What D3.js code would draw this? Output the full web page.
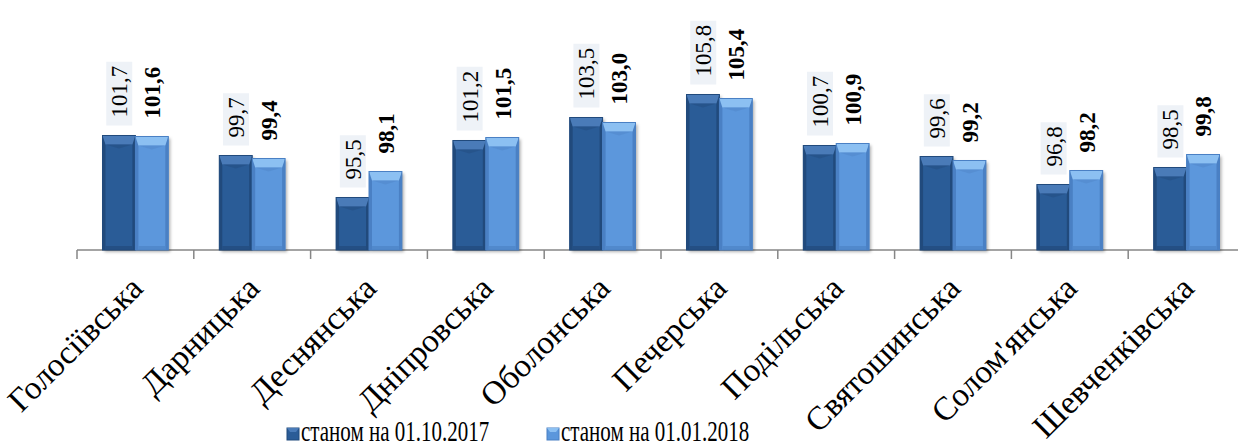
<!DOCTYPE html>
<html>
<head>
<meta charset="utf-8">
<script src="https://cdn.jsdelivr.net/npm/d3@7"></script>
<style>
  body { margin: 0; background: #fff; }
</style>
</head>
<body>
<div id="chart"></div>
<script>
const WIDTH = 1238;
const HEIGHT = 447;
const FONT = "Liberation Serif";

// Districts of Kyiv
const districts = ["Голосіївська", "Дарницька", "Деснянська", "Дніпровська", "Оболонська",
  "Печерська", "Подільська", "Святошинська", "Солом'янська", "Шевченківська"];
const oct2017 = [101.7, 99.7, 95.5, 101.2, 103.5, 105.8, 100.7, 99.6, 96.8, 98.5];
const jan2018 = [101.6, 99.4, 98.1, 101.5, 103.0, 105.4, 100.9, 99.2, 98.2, 99.8];
const seriesNames = ["станом на 01.10.2017", "станом на 01.01.2018"];

const COLORS = [
  { base: "#2b5c97", top: "#4a7bb8", edge: "#214a7c", bottom: "#244f84" },
  { base: "#5b97dc", top: "#8cc0f2", edge: "#4a80c4", bottom: "#5189cc" }
];

var svg = d3.select("#chart").append("svg")
  .attr("width", WIDTH)
  .attr("height", HEIGHT);

var defs = svg.append("defs");
defs.append("filter").attr("id", "shadow")
  .attr("x", "-20%").attr("y", "-20%").attr("width", "150%").attr("height", "150%")
  .append("feDropShadow")
  .attr("dx", 2).attr("dy", 2).attr("stdDeviation", 1.5)
  .attr("flood-color", "#000").attr("flood-opacity", 0.3);

var x = d3.scaleBand().domain(districts).range([77, 1245]).paddingInner(0).paddingOuter(0);
var x1 = d3.scaleBand().domain([0, 1]).range([0, x.bandwidth()]).paddingInner(0).paddingOuter(0.775);
var y = d3.scaleLinear().domain([90.25, 110]).range([250, 52.5]);

// Axis
var axis = svg.append("g").attr("transform", "translate(0,250)");
axis.append("line")
  .attr("x1", x.range()[0]).attr("x2", x.range()[1])
  .attr("stroke", "#868686").attr("stroke-width", 1.5);
axis.selectAll("line.tick")
  .data(districts)
  .enter().append("line")
  .attr("class", "tick")
  .attr("x1", function(d) { return x(d); })
  .attr("x2", function(d) { return x(d); })
  .attr("y1", 0).attr("y2", 9)
  .attr("stroke", "#868686").attr("stroke-width", 1.5);

// Bars
var series = [oct2017, jan2018];

function drawBar(g, x0, w, top, c) {
  var bottom = y.range()[0];
  var bev = Math.min(9, (bottom - top) / 3);
  var side = 3;
  g.append("rect")
    .attr("x", x0).attr("y", top)
    .attr("width", w).attr("height", bottom - top)
    .attr("fill", c.base)
    .attr("filter", "url(#shadow)");
  // left / right edges
  g.append("rect").attr("x", x0).attr("y", top).attr("width", side).attr("height", bottom - top).attr("fill", c.edge);
  g.append("rect").attr("x", x0 + w - side).attr("y", top).attr("width", side).attr("height", bottom - top).attr("fill", c.edge);
  // top bevel
  g.append("path")
    .attr("d", "M" + x0 + "," + top + "L" + (x0 + w) + "," + top +
      "L" + (x0 + w - side) + "," + (top + bev) + "L" + (x0 + side) + "," + (top + bev) + "Z")
    .attr("fill", c.top);
  g.append("path")
    .attr("d", "M" + (x0 + side) + "," + (top + bev) + "L" + (x0 + w - side) + "," + (top + bev) +
      "L" + (x0 + w / 2) + "," + (top + bev + 4) + "Z")
    .attr("fill", c.bottom).attr("opacity", 0.6);
  // bottom bevel
  g.append("rect").attr("x", x0 + side).attr("y", bottom - 4).attr("width", w - 2 * side).attr("height", 4)
    .attr("fill", c.bottom);
  g.append("rect").attr("x", x0).attr("y", top).attr("width", w).attr("height", bottom - top)
    .attr("fill", "none").attr("stroke", c.edge).attr("stroke-width", 1);
}

var barsG = svg.append("g");
districts.forEach(function(d, i) {
  series.forEach(function(s, k) {
    var g = barsG.append("g");
    drawBar(g, x(d) + x1(k), x1.bandwidth(), y(s[i]), COLORS[k]);
  });
});

// Value labels
var labelsG = svg.append("g");
districts.forEach(function(d, i) {
  series.forEach(function(s, k) {
    var cx = x(d) + x1(k) + x1.bandwidth() / 2;
    var g = labelsG.append("g")
      .attr("transform", "translate(" + cx + "," + (y(s[i]) - 18) + ") rotate(-90)");
    var t = g.append("text")
      .attr("x", 0).attr("y", 0)
      .attr("dy", "0.36em")
      .attr("font-family", FONT)
      .attr("font-size", 23)
      .attr("font-weight", k === 1 ? "bold" : "normal")
      .attr("fill", "#000")
      .text(s[i].toFixed(1).replace(".", ","));
    if (k === 0) {
      var bb = t.node().getBBox();
      g.insert("rect", "text")
        .attr("x", -8).attr("y", bb.y - 1)
        .attr("width", bb.width + 8 + 4).attr("height", bb.height + 1)
        .attr("fill", "#eef2f7");
    }
  });
});

// Category labels
svg.append("g").selectAll("text")
  .data(districts)
  .enter().append("text")
  .attr("transform", function(d) { return "translate(" + (x(d) + x.bandwidth() / 2 + 1) + ",282) rotate(-45)"; })
  .attr("text-anchor", "end")
  .attr("dy", "0.35em")
  .attr("font-family", FONT)
  .attr("font-size", 33)
  .attr("fill", "#000")
  .text(function(d) { return d; });

// Legend
var legendX = [287, 547];
var legend = svg.append("g");
seriesNames.forEach(function(name, k) {
  var c = COLORS[k];
  var lg = legend.append("g").attr("transform", "translate(" + legendX[k] + ",428)");
  lg.append("rect").attr("width", 12).attr("height", 12).attr("fill", c.base).attr("stroke", c.edge);
  lg.append("path").attr("d", "M0,0L12,0L9,4L3,4Z").attr("fill", c.top);
  lg.append("text")
    .attr("transform", "translate(14,13) scale(0.7,1)")
    .attr("font-family", FONT)
    .attr("font-size", 30)
    .attr("fill", "#000")
    .text(name);
});
</script>
</body>
</html>
